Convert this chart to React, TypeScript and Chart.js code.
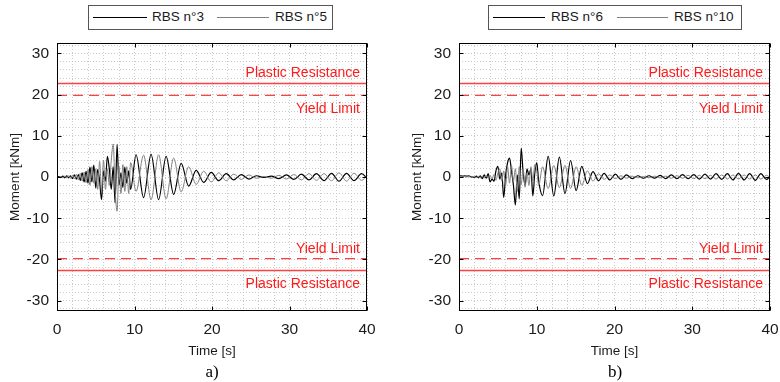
import React, { useEffect, useRef } from 'react';
import { Chart, registerables } from 'chart.js';

Chart.register(...registerables);

// ---------------- data ----------------
const timeA = [
  0, 0.25, 0.5, 0.75, 1, 1.25, 1.5, 1.75, 2, 2.25, 2.5, 2.75, 3, 3.25, 3.5, 3.75, 4, 4.25, 4.5, 4.75,
  5, 5.25, 5.5, 5.75, 6, 6.25, 6.5, 6.75, 7, 7.25, 7.5, 7.75, 8, 8.25, 8.5, 8.75, 9, 9.25, 9.5,
  10.2, 11.17, 12.14, 13.11, 14.08, 15.05, 16.02, 16.99, 17.96, 18.93, 19.9, 20.87, 21.84, 22.81,
  23.78, 24.75, 25.72, 26.69, 27.66, 28.63, 29.6, 30.57, 31.54, 32.51, 33.48, 34.45, 35.42, 36.39,
  37.36, 38.33, 39.3, 40,
];
const rbs3 = [
  0, 0.1, -0.1, 0.2, -0.2, 0.3, -0.2, 0.3, -0.4, 0.5, -0.5, 0.6, -0.8, 1.0, -1.2, 1.4, -1.5, 2.4, -1.2, 2.9,
  -2.7, 1.8, -1.0, -5.5, 1.5, -1.0, 5.0, 2.0, -3.0, 2.5, -6.3, 7.9, -2.0, 1.0, -2.5, 2.4, -1.5, 1.5, -3.0,
  5.4, -5.0, 5.5, -5.5, 5.0, -4.2, 3.3, -2.2, 1.6, -1.3, 1.1, -0.9, 0.8, -0.7, 0.6, -0.5, 0.3, -0.1, 0.2,
  -0.4, 0.5, -0.6, 0.7, -0.7, 0.8, -0.9, 0.9, -1.0, 0.9, -0.9, 0.8, -0.3,
];
const rbs5 = [
  0, -0.1, 0.1, -0.2, 0.2, -0.2, 0.3, -0.3, 0.4, -0.5, 0.6, -0.7, 0.9, -1.0, 1.2, -1.4, 1.8, -2.0, 2.5, -1.5,
  2.0, -3.0, 3.8, -3.5, 4.0, -3.0, 2.0, -2.0, 4.0, 8.0, -3.0, -8.3, 2.5, -4.0, 3.0, -3.5, 2.5, -4.0, 3.5,
  -3.5, 5.3, -5.5, 5.4, -5.3, 4.6, -3.6, 2.5, -1.8, 1.4, -1.2, 1.0, -0.9, 0.7, -0.6, 0.5, -0.3, 0.1, -0.3,
  0.4, -0.5, 0.6, -0.7, 0.8, -0.8, 0.8, -0.9, 1.0, -1.0, 0.9, -0.8, 0.3,
];

const timeB = [
  0, 0.25, 0.5, 0.75, 1, 1.25, 1.5, 1.75, 2, 2.25, 2.5, 2.75, 3, 3.25, 3.5, 3.75, 4, 4.25, 4.5, 4.75,
  5, 5.25, 5.5, 5.75, 6, 6.25, 6.5, 6.75, 7, 7.25, 7.5, 7.75, 8, 8.25, 8.5, 8.75, 9, 9.25, 9.5, 9.75, 10, 10.25,
  10.75, 11.47, 12.19, 12.91, 13.63, 14.35, 15.07, 15.79, 16.51, 17.23, 17.95, 18.67, 19.39, 20.11,
  20.83, 21.55, 22.27, 22.99, 23.71, 24.43, 25.15, 25.87, 26.59, 27.31, 28.03, 28.75, 29.47, 30.19,
  30.91, 31.63, 32.35, 33.07, 33.79, 34.51, 35.23, 35.95, 36.67, 37.39, 38.11, 38.83, 39.55, 40,
];
const rbs6 = [
  0.2, 0.3, 0.2, 0.3, 0.2, 0.3, 0.1, 0.0, -0.1, 0.2, -0.2, 0.3, -0.4, 0.5, -0.3, 0.8, -1.2, -0.5, -1.0, 1.5,
  2.6, -0.5, 1.0, -5.0, 0.5, 3.5, 4.6, 1.5, -2.0, -6.8, 0.5, -5.3, 7.0, 1.0, -2.0, 2.0, 0.5, 2.0, -4.6, 1.0, 3.5, -1.0,
  -4.5, 5.0, -4.6, 4.8, -4.0, 4.0, -3.3, 2.6, -1.6, 1.3, -0.9, 0.9, -0.7, 0.7, -0.6, 0.5, -0.4, 0.3, -0.3, 0.3,
  -0.3, 0.4, -0.4, 0.5, -0.4, 0.6, -0.4, 0.6, -0.5, 0.7, -0.5, 0.8, -0.6, 0.8, -0.7, 0.9, -0.7, 0.8, -0.8, 0.8, -0.6, 0.2,
];
const rbs10 = [
  0.1, 0.1, 0.0, 0.1, 0.0, 0.1, 0.0, 0.1, 0.0, -0.1, 0.1, -0.2, 0.2, -0.2, 0.3, -0.3, 0.4, -0.5, 0.6, -0.8,
  1.0, 2.0, -1.0, 1.5, -2.0, 2.5, -1.5, 2.8, -1.0, 2.0, -3.5, 2.5, -1.8, 2.0, -2.5, 1.0, -2.0, 2.5, -1.0, 3.0, 1.5, -2.0,
  2.5, -2.8, 2.8, -2.6, 2.8, -2.8, 2.5, -2.0, 1.5, -1.0, 0.8, -0.6, 0.5, -0.4, 0.3, -0.3, 0.2, -0.2, 0.1, -0.2,
  0.2, -0.2, 0.2, -0.3, 0.3, -0.3, 0.4, -0.4, 0.4, -0.4, 0.4, -0.5, 0.5, -0.5, 0.5, -0.5, 0.5, -0.5, 0.5, -0.5, 0.4, -0.1,
];

const plasticResistance = 22.7;
const yieldLimit = 19.8;
const xTicks = [0, 10, 20, 30, 40];
const yTicks = [-30, -20, -10, 0, 10, 20, 30];

// ---------------- styling ----------------
const FONT = '"Liberation Sans", Arial, Helvetica, sans-serif';
const SERIF = '"Liberation Serif", "Times New Roman", serif';
const RED_TEXT = '#ff1a1a';
const RED_LINE = '#ff4040';
const GRAY = '#808080';

const decorPlugin = {
  id: 'decor',
  afterDatasetsDraw(chart: any) {
    const { ctx, chartArea: a, scales } = chart;
    const xs = scales.x;
    const ys = scales.y;
    ctx.save();
    ctx.font = `14px ${FONT}`;
    ctx.fillStyle = RED_TEXT;
    ctx.textAlign = 'right';
    ctx.textBaseline = 'middle';
    const tx = a.right - 7;
    ctx.fillText('Plastic Resistance', tx, ys.getPixelForValue(plasticResistance) - 10);
    ctx.fillText('Yield Limit', tx, ys.getPixelForValue(yieldLimit) + 14);
    ctx.fillText('Yield Limit', tx, ys.getPixelForValue(-yieldLimit) - 9.5);
    ctx.fillText('Plastic Resistance', tx, ys.getPixelForValue(-plasticResistance) + 14);

    ctx.strokeStyle = '#000';
    ctx.lineWidth = 1;
    const l = Math.round(a.left) + 0.5;
    const r = Math.round(a.right) - 0.5;
    const t = Math.round(a.top) + 0.5;
    const b = Math.round(a.bottom) - 0.5;
    ctx.strokeRect(l, t, r - l, b - t);
    ctx.beginPath();
    xTicks.forEach((v) => {
      const p = Math.round(xs.getPixelForValue(v)) + 0.5;
      ctx.moveTo(p, b); ctx.lineTo(p, b - 4);
      ctx.moveTo(p, t); ctx.lineTo(p, t + 4);
    });
    yTicks.forEach((v) => {
      const p = Math.round(ys.getPixelForValue(v)) + 0.5;
      ctx.moveTo(l, p); ctx.lineTo(l + 4, p);
      ctx.moveTo(r, p); ctx.lineTo(r - 4, p);
    });
    ctx.stroke();
    ctx.restore();
  },
};

type PanelProps = {
  offset: number;
  padLeft: number;
  padRight: number;
  time: number[];
  s1: number[];
  s2: number[];
  names: string[];
  caption: string;
  captionX: number;
  legend: { left: number; width: number; items: { x1: number; x2: number; tx: number }[] };
};

function Panel(props: PanelProps) {
  const ref = useRef<HTMLCanvasElement | null>(null);
  const { time, s1, s2, names, padLeft, padRight } = props;

  useEffect(() => {
    if (!ref.current) return;
    const tickFont = { family: FONT, size: 15.5 };
    const flat = (v: number) => [{ x: 0, y: v }, { x: 40, y: v }];
    const chart = new Chart(ref.current, {
      type: 'line',
      data: {
        datasets: [
          {
            label: names[0],
            data: time.map((t, i) => ({ x: t, y: s1[i] })),
            borderColor: '#000',
            borderWidth: 1.2,
            pointRadius: 0,
            cubicInterpolationMode: 'monotone',
            order: 1,
          },
          {
            label: names[1],
            data: time.map((t, i) => ({ x: t, y: s2[i] })),
            borderColor: GRAY,
            borderWidth: 1,
            pointRadius: 0,
            cubicInterpolationMode: 'monotone',
            order: 0,
          },
          { label: 'pr+', data: flat(plasticResistance), borderColor: RED_LINE, borderWidth: 1.5, pointRadius: 0, order: 2 },
          { label: 'pr-', data: flat(-plasticResistance), borderColor: RED_LINE, borderWidth: 1.5, pointRadius: 0, order: 2 },
          { label: 'yl+', data: flat(yieldLimit), borderColor: RED_LINE, borderWidth: 1.2, borderDash: [10, 6], pointRadius: 0, order: 2 },
          { label: 'yl-', data: flat(-yieldLimit), borderColor: RED_LINE, borderWidth: 1.2, borderDash: [10, 6], pointRadius: 0, order: 2 },
        ] as any,
      },
      options: {
        responsive: false,
        animation: false,
        events: [],
        layout: { padding: { left: padLeft, right: padRight, top: 43, bottom: 21 } },
        plugins: { legend: { display: false }, tooltip: { enabled: false } },
        scales: {
          x: {
            type: 'linear',
            min: 0,
            max: 40,
            ticks: {
              stepSize: 2,
              autoSkip: false,
              maxRotation: 0,
              padding: 9,
              color: '#1a1a1a',
              font: tickFont,
              callback: (v: any) => (xTicks.includes(Number(v)) ? String(v) : ''),
            },
            grid: { color: '#cacaca', lineWidth: 1, drawTicks: false },
            border: { display: false, dash: [1, 2] },
            title: { display: true, text: 'Time [s]', color: '#1a1a1a', font: { family: FONT, size: 13.5 }, padding: { top: 0, bottom: 2 } },
            afterFit: (s: any) => { s.height = 50; s.paddingLeft = 0; s.paddingRight = 0; },
          },
          y: {
            type: 'linear',
            min: -32.5,
            max: 32.5,
            ticks: {
              stepSize: 2,
              includeBounds: false,
              autoSkip: false,
              padding: 8,
              color: '#1a1a1a',
              font: tickFont,
              callback: (v: any) => (yTicks.includes(Number(v)) ? String(v) : ''),
            },
            grid: { color: '#cacaca', lineWidth: 1, drawTicks: false },
            border: { display: false, dash: [1, 2] },
            title: { display: true, text: 'Moment [kNm]', color: '#1a1a1a', font: { family: FONT, size: 13.5 }, padding: { top: 7, bottom: 0 } },
            afterFit: (s: any) => { s.width = 57; s.paddingTop = 0; s.paddingBottom = 0; },
          },
        },
      } as any,
      plugins: [decorPlugin],
    });
    return () => chart.destroy();
  }, []);

  const lg = props.legend;
  return (
    <div style={{ position: 'absolute', left: props.offset, top: 0, width: 390, height: 382 }}>
      <canvas ref={ref} width={390} height={382} style={{ position: 'absolute', left: 0, top: 0, width: 390, height: 382 }} />
      <div
        style={{
          position: 'absolute', left: lg.left, top: 5, width: lg.width, height: 25,
          border: '1px solid #555', boxSizing: 'border-box', background: '#fff',
        }}
      />
      {lg.items.map((it, i) => (
        <React.Fragment key={i}>
          <div
            style={{
              position: 'absolute', left: it.x1, top: 16.5, width: it.x2 - it.x1, height: 0,
              borderTop: i === 0 ? '1.2px solid #000' : '1px solid ' + GRAY,
            }}
          />
          <div
            style={{
              position: 'absolute', left: it.tx, top: 9, height: 16, lineHeight: '16px',
              fontFamily: FONT, fontSize: 13.5, color: '#1a1a1a', whiteSpace: 'nowrap',
            }}
          >
            {names[i]}
          </div>
        </React.Fragment>
      ))}
      <div
        style={{
          position: 'absolute', left: props.captionX - 40, width: 80, top: 361, height: 22, lineHeight: '22px',
          textAlign: 'center', fontFamily: SERIF, fontSize: 17, color: '#000',
        }}
      >
        {props.caption}
      </div>
    </div>
  );
}

export default function App() {
  return (
    <div style={{ position: 'absolute', left: 0, top: 0, width: 780, height: 382, background: '#fff', overflow: 'hidden' }}>
      <Panel
        offset={0}
        padLeft={0}
        padRight={23}
        time={timeA}
        s1={rbs3}
        s2={rbs5}
        names={['RBS n°3', 'RBS n°5']}
        caption="a)"
        captionX={212}
        legend={{ left: 88, width: 245, items: [{ x1: 93, x2: 147, tx: 152 }, { x1: 217, x2: 269, tx: 275 }] }}
      />
      <Panel
        offset={390}
        padLeft={12}
        padRight={10}
        time={timeB}
        s1={rbs6}
        s2={rbs10}
        names={['RBS n°6', 'RBS n°10']}
        caption="b)"
        captionX={225}
        legend={{ left: 98, width: 254, items: [{ x1: 103, x2: 155, tx: 161 }, { x1: 227, x2: 278, tx: 284 }] }}
      />
    </div>
  );
}
